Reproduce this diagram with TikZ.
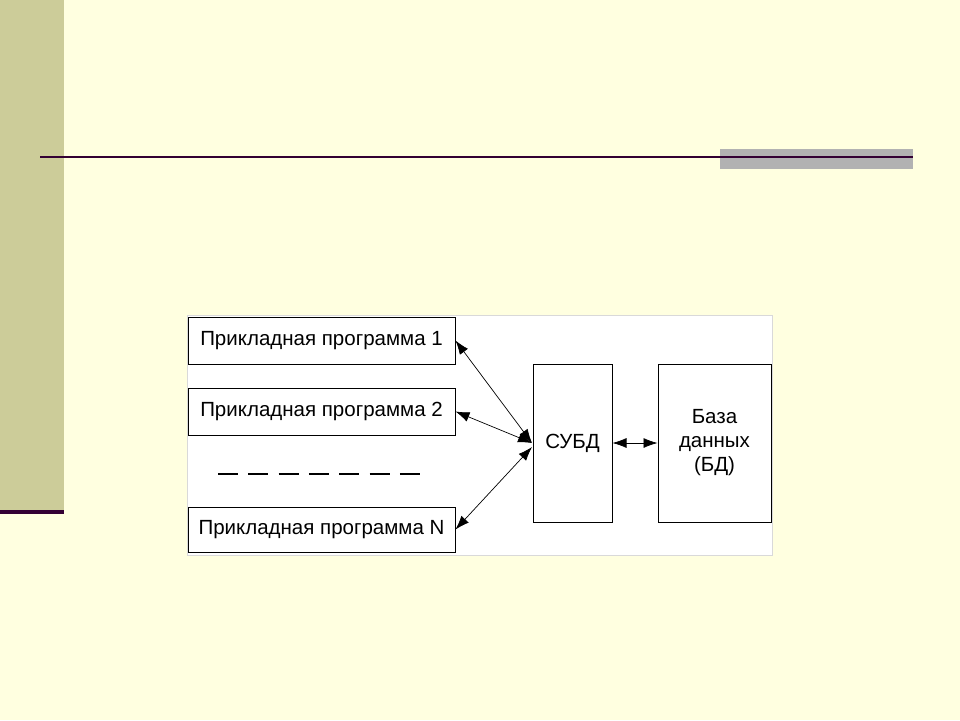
\documentclass[tikz,border=0pt]{standalone}
\usepackage{fontspec}
\setmainfont{Liberation Sans}
\usetikzlibrary{arrows.meta}
\definecolor{bgc}{HTML}{FFFFE0}
\definecolor{stripc}{HTML}{CCCC99}
\definecolor{darkp}{HTML}{330033}
\definecolor{grayc}{HTML}{B2B2B2}
\tikzset{
  box/.style={draw=black, line width=1pt, fill=white, inner sep=0pt},
  lbl/.style={font=\fontsize{20.5}{24}\selectfont, inner sep=0pt},
  conn/.style={line width=0.7pt, {Latex[length=14pt,width=10pt]}-{Latex[length=14pt,width=10pt]}}
}
\begin{document}
\begin{tikzpicture}[x=1pt,y=-1pt]
\useasboundingbox (0,0) rectangle (960,720);
\fill[bgc] (0,0) rectangle (960,720);
\fill[stripc] (0,0) rectangle (64,510);
\fill[darkp] (0,510) rectangle (64,514);
\fill[grayc] (720,149) rectangle (913,169);
\draw[darkp, line width=2pt] (40,157) -- (913,157);
% panel
\draw[fill=white, draw=black!15, line width=0.8pt] (187,315) rectangle (772,555);
% boxes
\node[box, minimum width=267pt, minimum height=47pt] (p1) at (321.5,340.5) {};
\node[lbl] at (p1) {Прикладная программа 1};
\node[box, minimum width=267pt, minimum height=47pt] (p2) at (321.5,411.5) {};
\node[lbl] at (p2) {Прикладная программа 2};
\node[box, minimum width=267pt, minimum height=45pt] (pn) at (321.5,529.5) {};
\node[lbl] at (pn) {Прикладная программа N};
\node[box, minimum width=79pt, minimum height=158pt] (dbms) at (572.5,443) {};
\node[lbl] at (dbms) {СУБД};
\node[box, minimum width=113pt, minimum height=158pt] (db) at (714.5,443) {};
\node[lbl, align=center, font=\fontsize{20.5}{24}\selectfont] at (db) {База\\данных\\(БД)};
% dashes
\coordinate (d1) at (218,474);
\coordinate (d2) at (420,474);
\draw[line width=2.5pt, dash pattern=on 20pt off 10.33pt] (d1) -- (d2);
% connectors
\coordinate (c) at (532,443);
\coordinate (cn) at (532,447);
\draw[conn] (p1.east) -- (c);
\draw[conn] (p2.east) -- (c);
\draw[conn] (pn.east) -- (cn);
\draw[conn] (dbms.east) -- (db.west);
\end{tikzpicture}
\end{document}
